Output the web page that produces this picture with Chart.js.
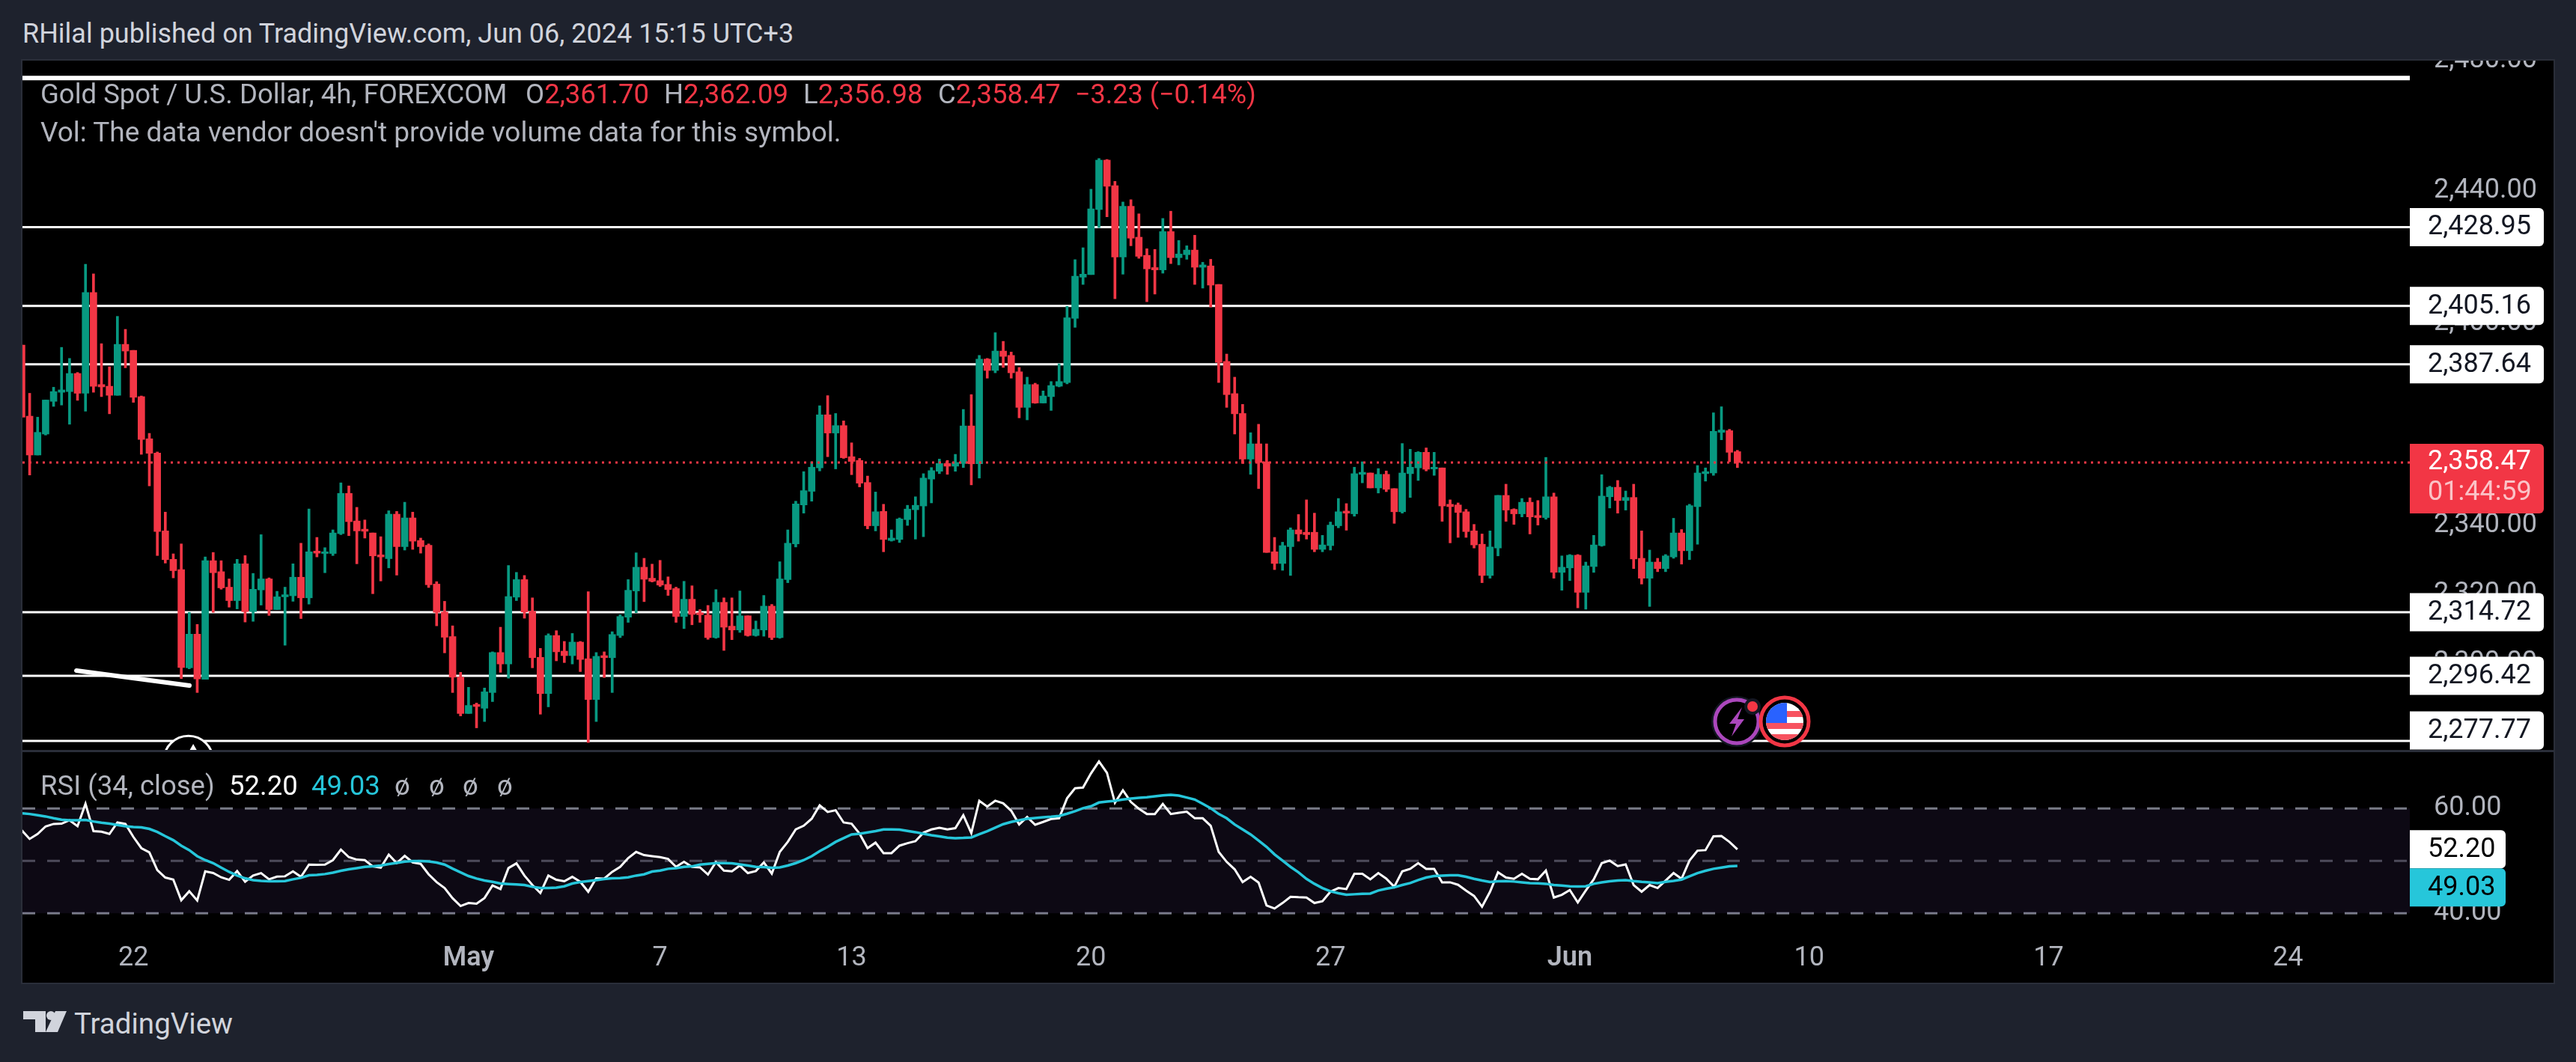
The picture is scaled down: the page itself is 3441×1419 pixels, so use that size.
<!DOCTYPE html>
<html>
<head>
<meta charset="utf-8">
<title>Gold Spot / U.S. Dollar</title>
<script src="https://cdn.jsdelivr.net/npm/chart.js@4"></script>
<style>
  html, body { margin: 0; padding: 0; width: 3441px; height: 1419px; overflow: hidden; background: #1e222d; }
  canvas { position: absolute; display: block; }
  #mainPane { left: 30px; top: 81px; }
  #rsiPane { left: 30px; top: 1005px; }
  .frame { position: absolute; left: 30px; top: 81px; width: 3381px; height: 1232px; background: #000; outline: 2px solid #2a2e39; }
  .sep { position: absolute; left: 30px; top: 1002px; width: 3381px; height: 3px; background: #2a2e39; }
  .t { position: absolute; white-space: nowrap; line-height: 50px; height: 50px; font-family: Roboto, sans-serif; font-size: 36.5px; color: #b2b5be; }
  .r { color: #f23645; }
  svg { position: absolute; left: 0; top: 0; }
</style>
</head>
<body>
<div class="frame"></div>
<canvas id="mainPane" width="3381" height="922"></canvas>
<canvas id="rsiPane" width="3381" height="308"></canvas>
<div class="sep"></div>

<div class="t" style="left:30px;top:20px;font-size:36px;color:#d1d4dc">RHilal published on TradingView.com, Jun 06, 2024 15:15 UTC+3</div>
<div class="t" style="left:54px;top:101px">Gold Spot / U.S. Dollar, 4h, FOREXCOM</div>
<div class="t" style="left:702px;top:101px">O<span class="r">2,361.70</span></div>
<div class="t" style="left:887px;top:101px">H<span class="r">2,362.09</span></div>
<div class="t" style="left:1073px;top:101px">L<span class="r">2,356.98</span></div>
<div class="t" style="left:1253px;top:101px">C<span class="r">2,358.47</span></div>
<div class="t r" style="left:1436px;top:101px;font-size:36px">−3.23 (−0.14%)</div>
<div class="t" style="left:54px;top:152px;font-size:37px">Vol: The data vendor doesn't provide volume data for this symbol.</div>

<div class="t" style="left:54px;top:1025px">RSI (34, close)</div>
<div class="t" style="left:306px;top:1025px;color:#fff">52.20</div>
<div class="t" style="left:416px;top:1025px;color:#26c6da">49.03</div>
<div class="t" style="left:527px;top:1025px">ø</div>
<div class="t" style="left:573px;top:1025px">ø</div>
<div class="t" style="left:618px;top:1025px">ø</div>
<div class="t" style="left:664px;top:1025px">ø</div>

<div class="t" style="left:99px;top:1343px;font-size:38.5px;color:#d1d4dc">TradingView</div>

<svg width="3441" height="1419" viewBox="0 0 3441 1419">
  <defs><clipPath id="flagClip"><circle cx="2384" cy="964" r="25"/></clipPath></defs>
  <path d="M31 1351h30v28h-14v-17H31z" fill="#d1d4dc"/>
  <circle cx="68" cy="1357" r="6" fill="#d1d4dc"/>
  <path d="M74 1351h15l-12 28H61z" fill="#d1d4dc"/>
  <circle cx="2320" cy="964" r="34" fill="#131722"/>
  <circle cx="2320" cy="964" r="29" fill="#000" stroke="#ab47bc" stroke-width="5"/>
  <path d="M2327 945l-17 22h9l-6 17 17-23h-9z" fill="#ab47bc"/>
  <circle cx="2341" cy="944" r="11" fill="#131722"/>
  <circle cx="2341" cy="944" r="7" fill="#f23645"/>
  <circle cx="2384" cy="964" r="32" fill="#000" stroke="#f23645" stroke-width="5"/>
  <g clip-path="url(#flagClip)">
    <rect x="2359" y="939" width="50" height="50" fill="#fff"/>
    <rect x="2359" y="950" width="50" height="8" fill="#f7525f"/>
    <rect x="2359" y="966" width="50" height="8" fill="#f7525f"/>
    <rect x="2359" y="981" width="50" height="8" fill="#f7525f"/>
    <rect x="2359" y="939" width="28" height="27" fill="#2962ff"/>
  </g>
</svg>

<script>
// candles, oldest first
var opens = [
  2393.4,2372.2,2360.7,2366.9,2376.6,2379.3,2379.5,2384.9,2379.0,2409.2,
  2381.6,2381.1,2378.4,2393.6,2391.8,2378.0,2365.5,2361.3,2338.4,2330.1,
  2327.1,2298.7,2308.4,2295.4,2329.7,2326.5,2322.0,2318.1,2328.8,2314.9,
  2321.2,2324.4,2315.5,2319.2,2319.5,2324.9,2318.9,2332.5,2331.8,2331.8,
  2337.6,2349.4,2341.3,2338.9,2337.8,2331.4,2330.3,2343.3,2333.8,2342.2,
  2335.6,2334.2,2322.9,2314.8,2307.7,2296.0,2285.6,2288.2,2287.1,2291.6,
  2303.1,2299.8,2319.1,2324.2,2315.0,2301.7,2291.3,2308.0,2303.5,2302.2,
  2306.1,2301.3,2289.6,2302.2,2301.6,2308.0,2313.3,2320.9,2327.8,2324.6,
  2323.9,2322.8,2321.6,2313.5,2318.5,2314.6,2313.9,2307.4,2317.6,2310.7,
  2309.6,2313.7,2308.0,2309.6,2316.5,2307.4,2324.2,2334.6,2346.0,2350.0,
  2356.9,2372.6,2367.2,2369.4,2360.2,2359.1,2352.6,2339.9,2344.1,2335.6,
  2335.9,2341.7,2344.6,2345.7,2353.6,2355.9,2358.2,2357.4,2358.2,2369.3,
  2358.1,2389.2,2385.8,2391.6,2390.3,2385.4,2374.8,2381.6,2376.1,2378.0,
  2381.1,2382.2,2401.4,2413.8,2414.6,2434.3,2449.4,2441.6,2419.9,2435.3,
  2425.9,2420.4,2416.7,2416.0,2427.6,2419.7,2420.6,2422.0,2416.8,2417.2,
  2411.6,2388.5,2378.9,2373.0,2359.5,2364.0,2358.7,2332.3,2328.9,2333.8,
  2338.7,2338.0,2338.0,2333.0,2334.1,2339.9,2344.2,2343.4,2355.0,2355.4,
  2351.0,2355.0,2350.8,2344.0,2355.2,2356.9,2361.5,2356.6,2356.9,2346.2,
  2346.0,2344.0,2338.4,2334.5,2325.4,2333.4,2348.8,2344.7,2343.4,2346.8,
  2342.9,2342.3,2348.4,2326.3,2327.6,2331.3,2320.5,2328.0,2334.1,2348.4,
  2351.2,2347.3,2348.2,2330.4,2324.6,2329.3,2327.4,2330.8,2337.8,2332.6,
  2345.5,2355.2,2355.4,2367.4,2367.9,2361.70
]
var highs = [
  2393.4,2379.0,2371.9,2377.0,2380.8,2392.7,2389.4,2385.2,2417.7,2414.8,
  2393.8,2386.9,2402.0,2398.1,2391.8,2378.2,2367.1,2361.6,2343.9,2331.7,
  2334.6,2314.7,2311.2,2330.8,2332.1,2329.7,2324.4,2330.1,2331.2,2326.0,
  2337.3,2324.7,2320.8,2322.0,2328.8,2334.8,2344.8,2336.5,2333.5,2338.7,
  2352.5,2351.6,2345.3,2341.6,2337.8,2336.7,2344.3,2344.1,2346.8,2343.9,
  2336.3,2334.6,2323.6,2317.9,2310.8,2297.4,2293.1,2288.6,2292.9,2303.3,
  2310.4,2328.3,2326.3,2325.4,2318.9,2304.3,2308.5,2309.4,2306.3,2308.6,
  2306.3,2320.7,2303.1,2303.3,2309.1,2314.0,2324.2,2332.0,2330.4,2328.7,
  2329.8,2325.0,2322.0,2323.7,2322.4,2315.5,2316.7,2321.3,2318.9,2318.9,
  2320.9,2313.7,2312.2,2319.6,2317.0,2329.4,2338.7,2347.1,2355.8,2358.7,
  2375.3,2378.3,2373.0,2370.8,2364.3,2359.7,2354.5,2349.8,2346.2,2338.7,
  2342.2,2345.9,2348.4,2355.2,2357.0,2359.5,2359.1,2360.9,2374.2,2378.6,
  2390.3,2389.4,2397.1,2394.5,2391.3,2386.7,2383.8,2382.0,2379.7,2382.5,
  2387.8,2405.0,2419.1,2422.7,2440.5,2449.9,2449.6,2442.9,2436.6,2437.3,
  2433.0,2422.4,2422.2,2431.6,2433.8,2424.9,2423.3,2426.5,2418.3,2419.2,
  2411.6,2390.7,2383.8,2375.7,2367.3,2369.8,2364.0,2336.5,2335.1,2339.3,
  2343.2,2347.5,2343.6,2337.1,2341.0,2347.9,2346.4,2357.1,2358.7,2355.4,
  2356.7,2356.0,2350.8,2364.1,2362.4,2361.7,2362.8,2361.5,2356.9,2347.5,
  2346.6,2344.7,2340.3,2337.5,2338.4,2348.8,2352.1,2344.9,2347.9,2348.1,
  2347.3,2360.0,2349.5,2331.1,2331.5,2331.5,2329.3,2337.1,2354.9,2351.5,
  2353.2,2350.1,2352.1,2338.4,2332.8,2330.4,2331.5,2342.1,2338.8,2346.2,
  2357.6,2356.9,2373.2,2375.0,2368.3,2362.09
]
var lows = [
  2371.9,2354.8,2360.7,2366.6,2375.1,2375.5,2369.8,2376.9,2373.7,2379.3,
  2378.0,2372.9,2378.4,2386.6,2376.3,2360.9,2351.6,2331.2,2329.0,2324.7,
  2295.6,2298.4,2291.6,2295.4,2314.7,2321.4,2316.2,2315.7,2311.9,2312.1,
  2316.8,2313.8,2315.5,2305.2,2317.9,2312.9,2317.1,2330.8,2326.2,2331.2,
  2337.3,2337.0,2328.8,2336.3,2320.1,2323.8,2327.6,2325.5,2332.8,2333.0,
  2331.9,2321.9,2310.8,2303.0,2291.6,2284.9,2285.6,2281.5,2283.3,2289.0,
  2297.4,2295.7,2318.1,2313.0,2298.7,2285.4,2287.5,2300.7,2300.2,2299.8,
  2297.6,2277.3,2283.3,2295.9,2291.6,2307.4,2311.8,2314.6,2317.8,2323.5,
  2322.2,2319.6,2311.8,2310.0,2311.1,2311.8,2306.9,2307.2,2303.7,2306.8,
  2308.9,2307.8,2307.8,2307.8,2306.8,2307.2,2323.3,2333.7,2343.6,2347.1,
  2356.0,2360.2,2356.6,2359.7,2354.9,2351.3,2339.0,2338.4,2332.3,2335.4,
  2335.0,2340.0,2336.0,2336.7,2346.6,2355.2,2355.0,2355.9,2357.0,2351.9,
  2353.9,2383.5,2385.1,2386.7,2383.5,2371.7,2371.1,2376.0,2376.1,2373.9,
  2380.9,2381.8,2398.7,2411.6,2414.6,2428.8,2432.1,2407.3,2414.7,2423.3,
  2419.5,2406.4,2408.7,2415.0,2417.9,2417.5,2419.2,2411.6,2410.5,2404.8,
  2382.2,2374.8,2366.9,2358.2,2355.0,2350.8,2332.1,2327.1,2326.9,2325.4,
  2335.4,2336.0,2332.3,2332.3,2332.8,2339.3,2338.6,2342.7,2352.5,2351.0,
  2349.5,2349.9,2340.6,2343.6,2348.2,2353.2,2356.0,2354.7,2341.2,2334.9,
  2336.5,2336.5,2333.4,2323.3,2324.6,2331.1,2341.2,2340.3,2342.5,2337.5,
  2340.1,2341.8,2324.6,2321.1,2323.9,2316.0,2315.6,2326.3,2333.9,2345.1,
  2343.6,2344.5,2327.4,2322.9,2316.4,2326.5,2326.5,2330.4,2328.7,2330.0,
  2334.5,2353.0,2354.7,2365.2,2358.7,2356.98
]
var closes = [
  2371.9,2360.7,2367.4,2377.0,2379.5,2380.0,2384.9,2379.0,2409.2,2381.1,
  2380.9,2378.4,2393.6,2391.6,2377.8,2365.3,2361.2,2338.2,2330.0,2326.8,
  2298.8,2308.4,2295.5,2329.7,2326.2,2321.8,2318.1,2328.8,2314.9,2321.4,
  2324.4,2315.5,2319.2,2319.8,2324.9,2318.9,2332.3,2331.9,2332.3,2337.8,
  2349.4,2341.1,2338.4,2338.3,2331.1,2330.8,2343.3,2333.8,2342.2,2335.4,
  2333.8,2322.7,2314.7,2307.5,2296.0,2285.6,2287.9,2287.6,2291.8,2303.1,
  2299.8,2319.3,2324.2,2314.8,2301.6,2291.3,2308.0,2303.3,2302.2,2306.1,
  2301.1,2289.6,2302.0,2301.6,2308.3,2313.5,2321.1,2327.8,2324.3,2323.7,
  2322.6,2321.3,2313.5,2318.5,2314.1,2314.0,2307.4,2317.6,2310.4,2309.6,
  2313.7,2308.0,2309.8,2316.5,2307.4,2324.4,2334.8,2346.3,2350.2,2357.1,
  2372.6,2367.2,2369.4,2359.9,2358.8,2352.4,2339.9,2344.0,2335.9,2336.3,
  2341.9,2344.8,2345.9,2353.9,2356.1,2358.2,2357.4,2358.5,2369.3,2358.1,
  2389.2,2385.8,2391.6,2390.0,2385.1,2374.8,2381.6,2376.1,2378.2,2381.3,
  2382.5,2401.6,2414.1,2414.7,2434.5,2449.4,2441.4,2419.9,2435.3,2425.6,
  2420.1,2416.3,2416.0,2427.6,2419.7,2420.8,2422.0,2416.8,2417.5,2411.4,
  2388.2,2378.6,2372.9,2359.5,2364.0,2358.5,2332.1,2328.9,2334.1,2338.7,
  2337.5,2337.3,2333.0,2334.3,2340.1,2344.0,2343.6,2355.2,2355.6,2351.0,
  2355.0,2350.6,2344.0,2355.4,2357.1,2361.5,2356.5,2357.1,2345.7,2345.5,
  2343.8,2338.2,2334.3,2325.4,2333.7,2348.8,2344.5,2343.4,2346.8,2342.5,
  2342.3,2348.4,2326.3,2327.8,2331.3,2320.5,2328.2,2334.3,2348.6,2351.2,
  2347.3,2348.2,2330.2,2324.6,2329.3,2327.4,2331.1,2337.8,2332.6,2345.8,
  2355.4,2355.8,2367.7,2368.1,2361.5,2358.47
]
var rsiValues = [
  55.86,54.19,55.14,56.57,57.05,57.10,57.76,56.62,60.90,55.67,
  55.57,55.14,57.33,57.05,54.57,52.43,51.62,48.24,46.81,46.43,
  42.48,44.19,42.43,48.00,47.67,46.86,46.38,48.05,46.00,47.19,
  47.67,46.48,47.00,47.05,48.00,46.95,49.29,49.24,49.29,50.14,
  52.14,50.71,50.24,50.14,48.95,48.71,51.19,49.57,50.95,49.71,
  49.43,47.43,45.95,44.81,42.86,41.38,41.95,41.81,42.90,45.29,
  44.62,48.62,49.52,47.19,45.38,43.86,47.19,46.38,46.10,46.95,
  46.00,44.10,46.67,46.62,47.90,48.86,50.52,51.71,51.10,50.90,
  50.71,50.38,48.86,49.81,48.86,48.76,47.38,49.76,48.14,48.00,
  49.10,47.67,48.05,49.71,47.57,51.71,53.62,56.00,56.71,58.05,
  60.62,59.33,59.67,57.33,57.10,55.19,52.43,53.48,51.48,51.48,
  52.90,53.38,53.76,55.38,56.00,56.33,56.00,56.24,58.71,55.29,
  61.48,60.38,61.48,61.00,59.57,56.95,58.38,56.90,57.43,58.00,
  58.14,61.95,63.86,64.00,66.71,69.00,66.81,61.10,63.48,61.24,
  59.95,58.95,58.95,60.86,58.95,59.19,59.38,58.14,58.14,56.71,
  51.71,49.81,48.38,45.95,46.95,45.86,41.48,40.90,41.95,43.14,
  43.05,43.00,41.95,42.29,44.10,44.81,44.62,47.52,47.52,46.48,
  47.67,46.62,45.05,48.00,48.48,49.57,48.48,48.48,45.90,45.90,
  45.43,44.33,43.29,41.24,44.10,47.81,46.81,46.57,47.52,46.57,
  46.48,48.14,43.00,43.52,44.43,42.05,44.33,46.48,49.57,50.05,
  49.00,49.33,45.38,44.10,45.38,44.81,46.24,47.67,46.57,50.05,
  51.95,52.05,54.67,54.76,53.62,52.20
]
var rsiMaValues = [
  59.10,58.95,58.71,58.48,58.14,57.86,57.76,57.76,57.81,57.52,
  57.29,57.10,56.86,56.62,56.48,56.38,56.10,55.52,54.71,53.95,
  52.90,52.05,50.90,50.14,49.57,48.71,47.90,47.19,46.67,46.33,
  46.19,46.10,46.10,46.14,46.48,46.76,47.24,47.33,47.48,47.76,
  48.10,48.38,48.62,48.86,48.95,49.10,49.38,49.62,49.86,49.95,
  49.95,49.90,49.67,49.29,48.52,47.81,47.10,46.62,46.24,46.00,
  45.67,45.57,45.48,45.38,45.05,44.81,44.81,44.90,45.14,45.67,
  45.95,46.14,46.33,46.52,46.67,46.71,46.86,47.19,47.43,47.95,
  48.14,48.48,48.62,48.86,48.95,49.29,49.43,49.57,49.57,49.52,
  49.33,49.10,48.86,48.81,48.67,48.76,49.10,49.57,50.14,50.90,
  51.86,52.67,53.62,54.33,55.05,55.19,55.43,55.67,56.00,56.00,
  55.95,55.71,55.48,55.19,54.90,54.67,54.43,54.33,54.38,54.48,
  55.10,55.67,56.33,57.00,57.43,57.76,58.05,58.19,58.33,58.43,
  58.57,59.00,59.48,60.05,60.43,61.14,61.33,61.48,61.71,61.90,
  62.05,62.14,62.33,62.52,62.62,62.48,62.10,61.71,60.90,60.05,
  58.95,58.14,56.95,56.00,55.05,53.86,52.67,51.24,50.05,48.86,
  47.81,46.57,45.62,44.81,44.19,43.81,43.52,43.62,43.71,43.76,
  44.33,44.67,44.95,45.38,45.76,46.33,46.81,47.10,47.19,47.24,
  47.24,46.95,46.57,46.24,45.95,46.10,46.14,46.05,45.90,45.76,
  45.71,45.62,45.38,45.29,45.14,45.10,45.14,45.62,45.90,46.10,
  46.24,46.33,46.14,46.00,45.90,45.76,46.00,46.19,46.43,47.05,
  47.67,48.10,48.48,48.71,48.95,49.03
]

// axes and drawn levels
var priceTicks = [2480, 2440, 2400, 2340, 2320, 2300]
var rsiTicks = [60, 40]
var rsiBands = [60, 50, 40]
var timeTickIndex = [14, 56, 80, 104, 134, 164, 194, 224, 254, 284]
var timeTickLabels = ['22', 'May', '7', '13', '20', '27', 'Jun', '10', '17', '24']
var topLevel = 2474.7
var levels = [2428.95, 2405.16, 2387.64, 2314.72, 2296.42, 2277.77]
var lastPrice = 2358.47
var countdown = '01:44:59'
var trendX = [6.86, 21.02]
var trendY = [2297.9, 2293.6]
var markerX = [20.9, 21.5]
var markerY = [2272.2, 2275.4]
var xMin = 0.1
var xMax = 299.26

var GREEN = '#089981', RED = '#f23645', GREY = '#b2b5be', CYAN = '#26c6da'
var FONT = 'Roboto, sans-serif'
var AXIS_WIDTH = 192

function money(v) {
  return v.toLocaleString('en-US', { minimumFractionDigits: 2, maximumFractionDigits: 2 })
}

function hline(value, color, width, order, dash) {
  return {
    type: 'line', order: order, borderColor: color, borderWidth: width, borderDash: dash || [],
    pointRadius: 0, fill: false, tension: 0,
    data: [{ x: xMin, y: value }, { x: xMax, y: value }],
  }
}

function tag(ctx, x, y, w, h, bg, fg, text, font) {
  ctx.fillStyle = bg
  ctx.beginPath()
  ctx.roundRect(x, y - h / 2, w, h, [0, 6, 6, 0])
  ctx.fill()
  ctx.fillStyle = fg
  ctx.font = font || '36px ' + FONT
  ctx.textAlign = 'left'
  ctx.textBaseline = 'middle'
  ctx.fillText(text, x + 24, y + 1)
}

var colors = closes.map(function (c, i) { return c >= opens[i] ? GREEN : RED })

var priceTags = {
  id: 'priceTags',
  afterDraw: function (chart) {
    var ctx = chart.ctx, s = chart.scales.y, area = chart.chartArea, right = area.right
    ctx.save()
    levels.forEach(function (v) {
      // a tag stays inside its pane, it does not get cut off at the bottom
      var y = Math.min(s.getPixelForValue(v), area.bottom - 27)
      tag(ctx, right, y, 179, 51, '#ffffff', '#131722', money(v))
    })
    var py = s.getPixelForValue(lastPrice)
    ctx.fillStyle = RED
    ctx.beginPath()
    ctx.roundRect(right, py - 25, 179, 93, [0, 6, 6, 0])
    ctx.fill()
    ctx.font = '36px ' + FONT
    ctx.textAlign = 'left'
    ctx.textBaseline = 'middle'
    ctx.fillStyle = '#ffffff'
    ctx.fillText(money(lastPrice), right + 24, py)
    ctx.fillStyle = 'rgba(255,255,255,0.7)'
    ctx.fillText(countdown, right + 24, py + 41)
    ctx.restore()
  },
}

new Chart(document.getElementById('mainPane'), {
  type: 'bar',
  data: {
    datasets: [
      {
        type: 'line', order: 1, borderColor: RED, borderWidth: 3, borderDash: [3, 6], pointRadius: 0, tension: 0,
        data: [{ x: xMin, y: lastPrice }, { x: xMax, y: lastPrice }],
      },
      {
        order: 2, maxBarThickness: 9, minBarLength: 2, grouped: false, barPercentage: 1, categoryPercentage: 1,
        backgroundColor: colors,
        data: closes.map(function (c, i) { return { x: i, y: [opens[i], c] } }),
      },
      {
        order: 3, maxBarThickness: 3, grouped: false, barPercentage: 1, categoryPercentage: 1,
        backgroundColor: colors,
        data: highs.map(function (h, i) { return { x: i, y: [lows[i], h] } }),
      },
      {
        type: 'line', order: 4, borderColor: '#ffffff', borderWidth: 6, borderCapStyle: 'round', pointRadius: 0, tension: 0,
        data: trendX.map(function (x, i) { return { x: x, y: trendY[i] } }),
      },
      {
        type: 'line', order: 4, showLine: false, pointStyle: 'circle', pointRadius: 33,
        pointBackgroundColor: '#000000', pointBorderColor: '#ffffff', pointBorderWidth: 3,
        data: [{ x: markerX[0], y: markerY[0] }],
      },
      {
        type: 'line', order: 3.5, showLine: false, pointStyle: 'triangle', pointRadius: 7,
        pointBackgroundColor: '#ffffff', pointBorderWidth: 0,
        data: [{ x: markerX[1], y: markerY[1] }],
      },
      hline(topLevel, '#ffffff', 6, 5),
    ].concat(levels.map(function (v) { return hline(v, '#ffffff', 3, 5) })),
  },
  plugins: [priceTags],
  options: {
    responsive: false,
    animation: false,
    devicePixelRatio: 1,
    events: [],
    layout: { padding: 0, autoPadding: false },
    plugins: { legend: { display: false }, tooltip: { enabled: false } },
    scales: {
      x: { type: 'linear', display: false, min: xMin, max: xMax, offset: false, grid: { display: false } },
      y: {
        type: 'logarithmic', position: 'right', min: 2275, max: 2480.07, bounds: 'data',
        grid: { display: false }, border: { display: false },
        afterBuildTicks: function (s) { s.ticks = priceTicks.map(function (v) { return { value: v } }) },
        afterFit: function (s) { s.width = AXIS_WIDTH; s.paddingTop = 0; s.paddingBottom = 0 },
        ticks: {
          autoSkip: false, padding: 24, color: GREY, font: { family: FONT, size: 36 },
          callback: function (v) { return money(v) },
        },
      },
    },
  },
})

var rsiTags = {
  id: 'rsiTags',
  afterDraw: function (chart) {
    var ctx = chart.ctx, s = chart.scales.y, area = chart.chartArea
    var h = 51
    var last = rsiValues[rsiValues.length - 1], lastMa = rsiMaValues[rsiMaValues.length - 1]
    var y1 = s.getPixelForValue(last)
    var y2 = Math.max(s.getPixelForValue(lastMa), y1 + h)
    ctx.save()
    // the axis labels stop where the time axis starts
    ctx.fillStyle = '#000000'
    ctx.fillRect(area.right, area.bottom, AXIS_WIDTH, chart.height - area.bottom)
    tag(ctx, area.right, y1, 128, h, '#ffffff', '#000000', last.toFixed(2))
    tag(ctx, area.right, y2, 128, h, CYAN, '#000000', lastMa.toFixed(2))
    ctx.restore()
  },
}

new Chart(document.getElementById('rsiPane'), {
  type: 'line',
  data: {
    datasets: [
      {
        order: 1, borderColor: CYAN, borderWidth: 3.5, pointRadius: 0, tension: 0,
        data: rsiMaValues.map(function (v, i) { return { x: i, y: v } }),
      },
      {
        order: 2, borderColor: '#ffffff', borderWidth: 3, pointRadius: 0, tension: 0,
        data: rsiValues.map(function (v, i) { return { x: i, y: v } }),
      },
      {
        order: 3, borderColor: '#787b86', borderWidth: 3, borderDash: [17, 16], pointRadius: 0,
        fill: { target: { value: rsiBands[2] } }, backgroundColor: 'rgba(126,87,194,0.1)',
        data: [{ x: xMin, y: rsiBands[0] }, { x: xMax, y: rsiBands[0] }],
      },
      hline(rsiBands[1], 'rgba(120,123,134,0.6)', 3, 3, [17, 16]),
      hline(rsiBands[2], '#787b86', 3, 3, [17, 16]),
    ],
  },
  plugins: [rsiTags],
  options: {
    responsive: false,
    animation: false,
    devicePixelRatio: 1,
    events: [],
    layout: { padding: 0, autoPadding: false },
    plugins: { legend: { display: false }, tooltip: { enabled: false } },
    scales: {
      x: {
        type: 'linear', position: 'bottom', min: xMin, max: xMax,
        grid: { display: false }, border: { display: false },
        afterBuildTicks: function (s) { s.ticks = timeTickIndex.map(function (v) { return { value: v } }) },
        afterFit: function (s) { s.height = 83; s.paddingLeft = 0; s.paddingRight = 0 },
        ticks: {
          autoSkip: false, maxRotation: 0, minRotation: 0, padding: 21, color: GREY,
          font: function (ctx) {
            var label = timeTickLabels[timeTickIndex.indexOf(ctx.tick && ctx.tick.value)]
            return { family: FONT, size: 36, weight: label === 'May' || label === 'Jun' ? '600' : '400' }
          },
          callback: function (v) { return timeTickLabels[timeTickIndex.indexOf(v)] },
        },
      },
      y: {
        type: 'linear', position: 'right', min: 38.6, max: 70.76, bounds: 'data',
        grid: { display: false }, border: { display: false },
        afterBuildTicks: function (s) { s.ticks = rsiTicks.map(function (v) { return { value: v } }) },
        afterFit: function (s) { s.width = AXIS_WIDTH; s.paddingTop = 0; s.paddingBottom = 0 },
        ticks: {
          autoSkip: false, padding: 24, color: GREY, font: { family: FONT, size: 36 },
          callback: function (v) { return v.toFixed(2) },
        },
      },
    },
  },
})
</script>
</body>
</html>
